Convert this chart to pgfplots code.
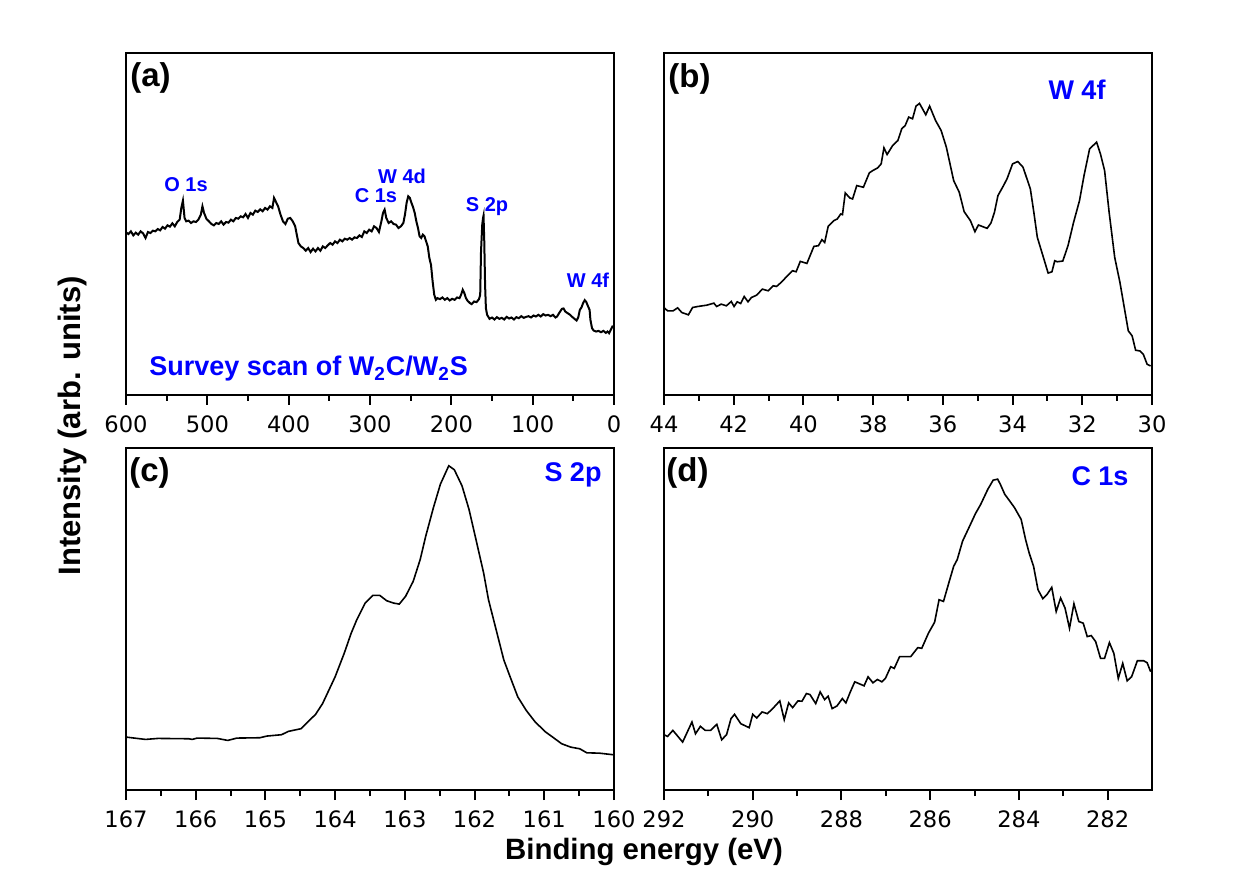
\documentclass[border=0pt]{standalone}
\usepackage{pgfplots}
\pgfplotsset{compat=1.18}
\usepackage{fontspec}
\setmainfont{Liberation Sans}
\newfontfamily\tickfont{DejaVu Sans}
\pgfplotsset{panel/.style={scale only axis, width=244pt, height=171pt, anchor=south west,
  x dir=reverse, axis line style={line width=1pt}, ytick=\empty, xtick pos=bottom,
  tick align=outside, major tick length=5pt, minor tick length=3pt,
  every tick/.style={black, line width=1pt}, minor x tick num=1,
  ticklabel style={font=\tickfont\fontsize{11.3}{13}\selectfont, yshift=-2pt},
  /pgf/number format/assume math mode=true, enlargelimits=false, clip=true}}
\tikzset{pl/.style={font=\fontsize{10}{12}\selectfont\bfseries, text=blue, inner sep=0pt, anchor=base},
  big/.style={font=\fontsize{13.5}{15}\selectfont\bfseries, text=blue, inner sep=0pt, anchor=base},
  let/.style={font=\fontsize{16.5}{18}\selectfont\bfseries, inner sep=0pt, anchor=base west}}
\begin{document}
\begin{tikzpicture}
\path[use as bounding box] (0,0) rectangle (628pt,447pt);
% (a)
\begin{axis}[panel, at={(63pt,249.5pt)}, xmin=0, xmax=600, ymin=0, ymax=1024, xtick={0,100,...,600}]
\addplot[black, line width=1pt] coordinates {
(600,487)(597,482)(594,490)(591,478)(588,486)(585,480)(582,490)(579,484)(576,470)(573,488)
(570,485)(567,492)(564,490)(561,497)(558,493)(555,503)(552,498)(549,508)(546,504)(543,514)
(540,505)(537,518)(534,525)(532,560)(530,582)(528,530)(526,520)(523,522)(520,515)(517,520)
(514,518)(511,525)(508,540)(506,565)(504,545)(501,527)(498,520)(495,512)(492,508)(489,515)
(486,512)(483,520)(480,510)(477,518)(474,516)(471,525)(468,520)(465,530)(462,528)(459,535)
(456,532)(453,542)(450,530)(447,545)(444,540)(441,552)(438,548)(435,556)(432,550)(429,560)
(426,555)(423,565)(420,560)(418,590)(416,580)(413,565)(410,540)(407,520)(404,512)(401,528)
(398,530)(395,520)(392,505)(390,480)(388,455)(385,445)(382,440)(379,432)(376,440)(373,428)
(370,438)(367,430)(364,440)(361,432)(358,445)(355,440)(352,448)(349,455)(346,450)(343,460)
(340,455)(337,465)(334,460)(331,468)(328,465)(325,470)(322,465)(319,472)(316,470)(313,478)
(310,473)(307,490)(304,485)(301,495)(298,490)(295,505)(292,500)(289,488)(286,520)(284,545)
(282,555)(280,530)(277,515)(274,520)(271,512)(268,510)(265,500)(262,505)(259,515)(257,540)
(255,575)(253,595)(251,590)(249,575)(247,562)(245,545)(243,520)(241,500)(239,475)(237,470)
(235,480)(233,475)(231,460)(229,445)(227,410)(225,390)(223,340)(221,300)(219,285)(217,290)
(214,287)(211,292)(208,285)(205,290)(202,283)(199,288)(196,285)(193,292)(190,290)(188,300)
(186,315)(184,305)(182,290)(180,282)(177,275)(175,272)(172,280)(169,278)(166,287)(164.5,300)
(163.5,430)(162,510)(161,530)(160.4,537)(159.5,460)(158.5,330)(157.5,260)(156,240)(153,228)
(150,232)(147,226)(144,233)(141,228)(138,231)(135,226)(132,234)(129,229)(126,232)(123,226)
(120,233)(117,230)(114,236)(111,231)(108,234)(105,236)(102,232)(99,238)(96,235)(93,240)
(90,235)(87,242)(84,238)(81,240)(78,236)(75,240)(72,232)(70,235)(67,247)(64,258)(62,259)
(60,250)(57,245)(54,240)(51,233)(48,227)(46,223)(44,232)(42,255)(40,262)(38,275)(36,284)
(34,278)(32,266)(30,255)(29,225)(27,200)(25,193)(22,190)(19,192)(16,188)(13,192)(10,186)
(8,190)(6,185)(4,195)(2,205)(0,203)};
\end{axis}
% (b)
\begin{axis}[panel, at={(332pt,249.5pt)}, xmin=30, xmax=44, ymin=0, ymax=1024, xtick={30,32,...,44}]
\addplot[black, line width=0.8pt] coordinates {
(44.0,262)(43.9,252)(43.74,252)(43.61,261)(43.49,247)(43.30,240)(43.18,262)(43.03,265)
(42.77,269)(42.57,275)(42.49,265)(42.36,272)(42.21,267)(42.07,280)(41.99,265)(41.90,279)
(41.80,274)(41.70,295)(41.59,279)(41.49,292)(41.34,299)(41.18,317)(41.01,312)(40.87,327)
(40.77,325)(40.62,339)(40.46,357)(40.31,372)(40.21,369)(40.09,400)(39.90,394)(39.70,445)
(39.57,447)(39.47,465)(39.39,457)(39.29,505)(39.13,522)(39.03,527)(38.93,542)(38.88,540)
(38.80,605)(38.67,590)(38.59,587)(38.47,627)(38.28,622)(38.11,665)(38.01,672)(37.87,680)
(37.77,692)(37.69,740)(37.60,720)(37.44,747)(37.29,762)(37.18,797)(37.08,807)(36.98,832)
(36.87,827)(36.77,865)(36.67,873)(36.49,839)(36.38,865)(36.21,822)(36.05,792)(35.90,742)
(35.69,642)(35.53,607)(35.39,549)(35.21,522)(35.08,489)(34.98,509)(34.73,499)(34.62,515)
(34.52,547)(34.42,597)(34.26,627)(34.16,647)(34.0,692)(33.85,699)(33.70,682)(33.49,617)
(33.39,547)(33.29,472)(33.13,417)(32.98,365)(32.87,369)(32.79,402)(32.72,399)(32.56,401)
(32.41,447)(32.25,517)(32.08,582)(31.95,657)(31.79,737)(31.59,757)(31.48,722)(31.36,672)
(31.23,547)(31.07,412)(30.92,337)(30.68,192)(30.57,177)(30.47,134)(30.35,132)(30.25,122)
(30.14,92)(30.04,87)};
\end{axis}
% (c)
\begin{axis}[panel, at={(63pt,52pt)}, xmin=160, xmax=167, ymin=0, ymax=1021, xtick={160,...,167}]
\addplot[black, line width=0.8pt] coordinates {
(167.0,158)(166.92,156)(166.72,151)(166.54,154)(166.10,153)(166.05,151)(165.98,155)
(165.69,154)(165.54,148)(165.41,155)(165.08,156)(164.98,161)(164.77,165)(164.67,175)
(164.49,183)(164.28,226)(164.18,258)(164.00,338)(163.87,408)(163.77,468)(163.69,508)
(163.57,558)(163.46,581)(163.36,581)(163.26,565)(163.16,558)(163.08,555)(162.99,578)
(162.88,623)(162.78,688)(162.70,758)(162.59,843)(162.49,913)(162.37,968)(162.29,956)
(162.18,908)(162.08,838)(161.98,748)(161.87,648)(161.80,568)(161.69,478)(161.58,388)
(161.49,338)(161.38,278)(161.26,238)(161.13,203)(160.98,173)(160.88,158)(160.75,138)
(160.62,128)(160.49,123)(160.39,111)(160.21,110)(160.0,105)};
\end{axis}
% (d)
\begin{axis}[panel, at={(332pt,52pt)}, xmin=281, xmax=292, ymin=0, ymax=1021, xtick={282,284,...,292}]
\addplot[black, line width=0.8pt] coordinates {
(292.0,165)(291.92,160)(291.80,178)(291.58,143)(291.37,203)(291.29,168)(291.18,190)
(291.07,178)(290.95,178)(290.81,196)(290.70,150)(290.59,165)(290.49,213)(290.41,226)
(290.27,198)(290.08,186)(290.0,226)(289.91,215)(289.79,233)(289.67,228)(289.55,243)
(289.39,266)(289.29,210)(289.19,260)(289.10,246)(288.98,266)(288.89,265)(288.79,288)
(288.71,285)(288.58,258)(288.48,293)(288.38,270)(288.30,280)(288.21,243)(288.10,251)
(287.98,273)(287.90,260)(287.80,293)(287.70,323)(287.49,311)(287.40,338)(287.29,320)
(287.19,330)(287.09,323)(287.01,333)(286.89,368)(286.81,363)(286.69,398)(286.44,398)
(286.28,425)(286.19,423)(286.04,468)(285.90,501)(285.80,568)(285.70,563)(285.57,623)
(285.47,668)(285.39,688)(285.27,743)(285.11,788)(284.98,825)(284.86,853)(284.70,898)
(284.58,925)(284.48,928)(284.42,913)(284.32,883)(284.22,865)(284.10,843)(283.95,808)
(283.85,748)(283.77,708)(283.67,668)(283.57,598)(283.46,571)(283.37,583)(283.26,605)
(283.16,533)(283.06,573)(282.96,543)(282.86,483)(282.76,556)(282.65,503)(282.55,498)
(282.46,458)(282.37,461)(282.27,443)(282.16,393)(282.07,393)(281.96,440)(281.86,408)
(281.76,333)(281.66,378)(281.56,326)(281.46,338)(281.33,386)(281.19,386)(281.11,380)
(281.03,353)};
\end{axis}
% panel letters
\node[let] at (65pt,403.5pt) {(a)};
\node[let] at (334pt,403pt) {(b)};
\node[let] at (64.5pt,206pt) {(c)};
\node[let] at (333pt,206pt) {(d)};
% peak labels (a)
\node[pl] at (93pt,351pt) {O 1s};
\node[pl] at (188pt,345.6pt) {C 1s};
\node[pl] at (201pt,355.3pt) {W 4d};
\node[pl] at (243.5pt,341pt) {S 2p};
\node[pl] at (294pt,303pt) {W 4f};
\node[big, anchor=base west] at (74.5pt,259pt) {Survey scan of W\textsubscript{2}C/W\textsubscript{2}S};
\node[big] at (538.5pt,397pt) {W 4f};
\node[big] at (286.5pt,206pt) {S 2p};
\node[big] at (550pt,204pt) {C 1s};
% axis labels
\node[font=\fontsize{14.7}{16}\selectfont\bfseries, anchor=base] at (322pt,17.5pt) {Binding energy (eV)};
\node[font=\fontsize{15.5}{17}\selectfont\bfseries, rotate=90] at (36pt,234pt) {Intensity (arb. units)};
\end{tikzpicture}
\end{document}
